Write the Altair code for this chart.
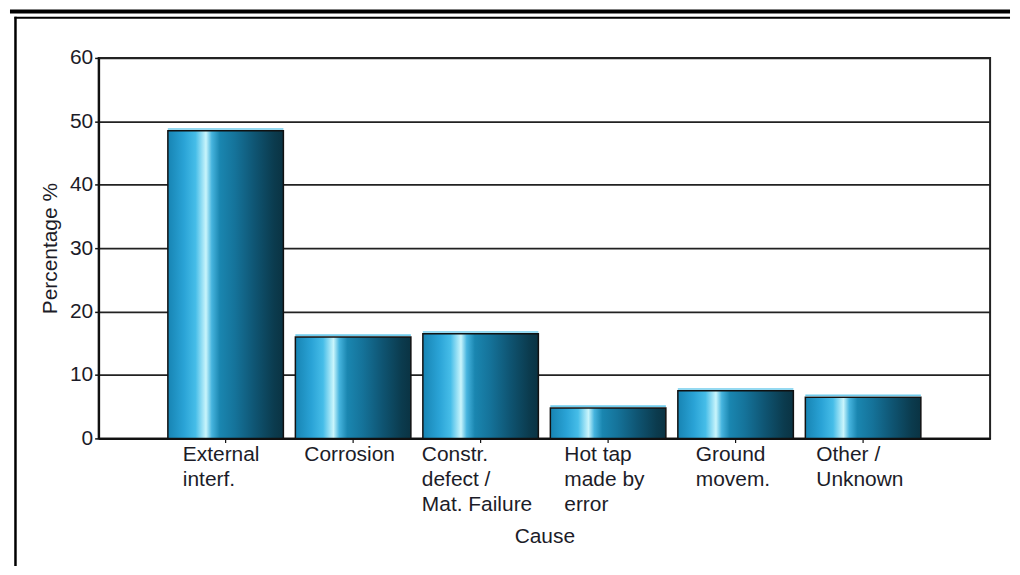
import altair as alt
import pandas as pd

categories = ["External interf.", "Corrosion", "Constr. defect / Mat. Failure",
              "Hot tap made by error", "Ground movem.", "Other / Unknown"]
label_lines = [["External", "interf."], ["Corrosion"], ["Constr.", "defect /", "Mat. Failure"],
               ["Hot tap", "made by", "error"], ["Ground", "movem."], ["Other /", "Unknown"]]
percentages = [48.5, 16.0, 16.5, 4.8, 7.5, 6.5]
y_ticks = [0, 10, 20, 30, 40, 50, 60]

df = pd.DataFrame({"Cause": categories, "Percentage": percentages})

FONT = "Liberation Sans"
TXT = "#1c1c28"

# label block offsets (left-aligned lines, block centred on the bar)
label_shift = [-43, -49, -59, -44, -40, -47]

cats_js = "[" + ",".join("'" + c + "'" for c in categories) + "]"
lines_js = "[" + ",".join("[" + ",".join("'" + s + "'" for s in ls) + "]" for ls in label_lines) + "]"
label_expr = f"{lines_js}[indexof({cats_js}, datum.value)]"

label_offset = {
    "condition": [{"test": f"datum.value == '{c}'", "value": o} for c, o in zip(categories, label_shift)],
    "value": 0,
}

grad = alt.Gradient(
    gradient="linear",
    x1=0, x2=1, y1=0, y2=0,
    stops=[
        alt.GradientStop(color="#1784b3", offset=0.0),
        alt.GradientStop(color="#2aa3d6", offset=0.14),
        alt.GradientStop(color="#46bde8", offset=0.24),
        alt.GradientStop(color="#c9f5fc", offset=0.33),
        alt.GradientStop(color="#46b4de", offset=0.38),
        alt.GradientStop(color="#1a86b0", offset=0.45),
        alt.GradientStop(color="#15739a", offset=0.58),
        alt.GradientStop(color="#0f5573", offset=0.75),
        alt.GradientStop(color="#0b3b4e", offset=0.92),
        alt.GradientStop(color="#0a3343", offset=1.0),
    ],
)

x_enc = alt.X("Cause:N", sort=categories,
              scale=alt.Scale(paddingInner=0.094, paddingOuter=0.543),
              axis=alt.Axis(title="Cause", labelAngle=0, labelAlign="left",
                            labelBaseline="top", labelExpr=label_expr,
                            labelOffset=label_offset, labelPadding=1,
                            labelLineHeight=25, labelFontSize=21,
                            tickSize=4, tickColor="#111", tickWidth=1.2,
                            domainColor="#111", domainWidth=2,
                            titlePadding=12, titleFontSize=21, labelLimit=300))
y_enc = alt.Y("Percentage:Q", scale=alt.Scale(domain=[0, 60], nice=False),
              axis=alt.Axis(title="Percentage %", values=y_ticks, format="d",
                            grid=True, gridColor="#222", gridWidth=1.6,
                            tickSize=4, tickColor="#111", tickWidth=1.5,
                            domainColor="#111", domainWidth=2,
                            labelPadding=2, labelFontSize=21,
                            titlePadding=9, titleFontSize=21))

bars = alt.Chart(df).mark_bar(
    color=grad, stroke="#111", strokeWidth=1.5
).encode(x=x_enc, y=y_enc)

highlight = alt.Chart(df).mark_tick(
    color="#62c6ea", thickness=1.6, size=116, yOffset=-1.8, opacity=0.9
).encode(x=alt.X("Cause:N", sort=categories), y="Percentage:Q")

frame_df = pd.DataFrame({"k": [0]})
thick_top = alt.Chart(frame_df).mark_rule(color="#000", strokeWidth=4).encode(
    x=alt.value(-89), x2=alt.value(915), y=alt.value(-46.5))
thin_top = alt.Chart(frame_df).mark_rule(color="#000", strokeWidth=2).encode(
    x=alt.value(-84.5), x2=alt.value(915), y=alt.value(-40.3))
left_line = alt.Chart(frame_df).mark_rule(color="#000", strokeWidth=2.5).encode(
    x=alt.value(-83.5), y=alt.value(-41.3), y2=alt.value(510))

chart = alt.layer(bars, highlight, thick_top, thin_top, left_line).properties(
    width=895, height=382
).configure(
    padding=0, background="white", font=FONT
).configure_axis(
    labelFont=FONT, titleFont=FONT, labelColor=TXT, titleColor=TXT,
    titleFontWeight="normal"
).configure_view(
    stroke="#222", strokeWidth=2
)

chart.save("out.html", embed_options={"renderer": "svg", "actions": False})
